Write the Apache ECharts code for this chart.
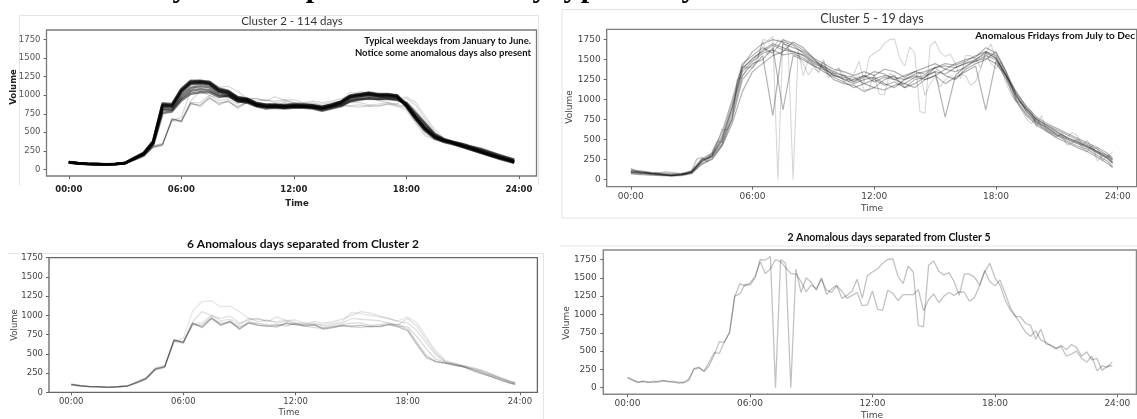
<!DOCTYPE html>
<html>
<head>
<meta charset="utf-8">
<script src="https://cdn.jsdelivr.net/npm/echarts@6/dist/echarts.min.js"></script>
<style>html,body{margin:0;padding:0;background:#fff}#c{width:1137px;height:419px}</style>
</head>
<body>
<div id="c"></div>
<script>
// ---- tick labels ----
const xTicks = [0, 6, 12, 18, 24];
const yTicks = [0, 250, 500, 750, 1000, 1250, 1500, 1750];

// ---- time stamps (hours) ----
const H30 = []; for (let i = 0; i < 48; i++) H30.push(i * 0.5); H30.push(23.75);
const H15 = []; for (let i = 0; i < 96; i++) H15.push(i * 0.25);

// ---- Cluster 2: typical weekdays (30-min samples) ----
const t2_1 = [92,80,73,70,66,71,84,148,212,365,860,855,
  1050,1160,1170,1150,1060,1030,950,935,875,855,850,845,
  855,850,845,825,855,895,975,995,1010,995,995,980,
  850,680,530,425,375,345,305,265,225,185,145,110,90];
const t2_2 = [98,84,75,71,68,73,86,155,220,375,880,870,
  1075,1185,1190,1170,1080,1050,970,950,890,870,870,860,
  870,870,860,840,870,910,990,1010,1030,1010,1010,995,
  870,700,550,440,390,355,315,275,235,195,155,120,98];
const t2_3 = [90,78,72,69,65,70,82,142,205,360,850,845,
  1040,1150,1160,1145,1050,1020,945,925,870,845,845,840,
  850,845,840,820,850,890,965,990,1005,990,990,975,
  845,670,520,420,370,340,300,260,220,180,140,105,88];
const t2_4 = [100,86,76,72,68,74,88,158,225,380,890,880,
  1085,1195,1195,1180,1090,1060,975,955,895,875,875,865,
  875,875,865,845,875,915,995,1015,1035,1015,1015,1000,
  880,710,560,450,395,360,320,280,240,200,160,125,102];
const t2_5 = [95,82,74,70,66,72,84,145,205,350,820,820,
  1000,1100,1120,1110,1030,1010,930,920,860,840,845,835,
  845,845,835,815,845,880,950,975,995,980,980,970,
  860,700,560,450,390,360,320,285,245,205,165,130,110];
const t2_6 = [96,82,74,71,67,72,84,140,200,330,760,780,
  930,1020,1040,1040,980,990,920,910,860,840,840,830,
  840,840,830,800,830,860,920,950,960,950,960,950,
  880,740,600,470,400,370,340,300,260,220,180,145,125];
const t2_7 = [94,81,73,70,66,72,85,150,215,370,865,860,
  1065,1170,1180,1165,1065,1045,960,945,885,860,865,855,
  865,860,855,835,865,905,985,1005,1025,1005,1005,990,
  865,695,545,435,385,350,310,270,230,190,150,115,95];
const t2_8 = [97,83,75,71,67,73,85,145,210,350,800,800,
  960,1060,1080,1070,1000,990,920,900,850,820,830,820,
  830,830,820,790,820,850,920,940,960,950,950,940,
  900,760,620,480,410,370,340,300,270,230,190,150,130];

// ---- Cluster 2: 6 anomalous days (30-min samples) ----
const a2_1 = [100,85,75,72,65,72,80,120,175,300,330,680,
  650,900,840,960,870,920,820,900,870,860,850,900,
  880,860,880,820,840,870,860,870,850,860,880,850,
  800,620,450,400,380,350,330,280,240,200,160,120,105];
const a2_2 = [110,90,78,74,68,74,85,140,190,320,350,660,
  700,1060,1180,1190,1110,1120,1050,960,950,930,920,940,
  900,900,880,880,900,920,1040,1020,1000,980,950,930,
  980,900,720,540,420,380,350,320,290,240,190,150,130];
const a2_3 = [95,80,72,70,65,72,82,130,180,310,340,670,
  660,920,1050,1000,960,990,900,940,960,920,980,930,
  940,900,920,900,920,950,1000,1050,1030,990,960,920,
  900,800,640,480,400,370,340,300,260,220,180,140,120];
const a2_4 = [105,85,75,72,66,73,82,125,170,290,320,690,
  640,880,870,980,880,930,830,920,880,860,880,860,
  900,860,840,830,850,860,850,840,860,850,880,880,
  820,650,480,400,380,360,330,290,250,200,150,115,100];
const a2_5 = [100,82,74,70,65,72,80,135,185,305,335,660,
  640,900,900,1000,930,950,880,960,920,940,900,920,
  900,880,900,860,880,900,960,950,940,930,900,880,
  960,860,680,510,400,370,340,310,280,230,180,140,125];
const a2_6 = [98,84,75,71,66,72,81,128,178,300,330,675,
  650,890,860,960,900,910,850,900,900,880,870,890,
  880,880,870,840,860,880,900,900,870,880,900,860,
  850,720,560,430,390,360,330,300,270,220,170,130,115];

// ---- Cluster 5: typical Fridays (30-min samples) ----
const c5_1 = [90,80,70,60,50,60,90,230,300,500,900,1400,
  1500,1620,1700,1650,1600,1550,1450,1400,1300,1280,1250,1300,
  1220,1280,1250,1200,1280,1300,1350,1320,1400,1450,1480,1550,
  1500,1320,1050,850,720,650,560,500,450,400,330,260,200];
const c5_2 = [110,100,80,70,60,70,100,250,280,450,800,1300,
  1450,1500,1650,870,1550,1500,1420,1380,1320,1250,1200,1250,
  1280,1200,1150,1250,1300,1250,1300,1380,1350,1400,1500,1600,
  1550,1300,1100,900,750,680,600,520,480,420,350,300,250];
const c5_3 = [80,70,60,55,45,55,80,200,260,430,750,1250,
  1400,1550,800,1700,1650,1600,1500,1420,1350,1300,1280,1200,
  1150,1250,1300,1150,1200,1280,1400,1300,1250,1380,1450,1500,
  1600,1350,1000,820,700,620,550,480,420,380,300,230,160];
const c5_4 = [100,90,75,65,55,65,95,240,320,550,950,1420,
  1600,1700,1750,1720,1680,1580,1480,1420,1330,1300,1220,1280,
  1350,1320,1250,1300,1350,1320,1400,1450,1430,1480,1550,1600,
  1520,1280,1020,880,760,680,620,560,500,440,380,300,240];
const c5_5 = [70,60,55,50,45,50,75,190,250,420,700,1100,
  1350,1450,1550,1600,1720,1650,1520,1380,1250,1200,1180,1100,
  1150,1120,1180,1200,1150,1250,1300,1200,1280,1350,1420,870,
  1480,1250,980,800,680,600,520,460,400,350,280,200,150];
const c5_6 = [120,110,90,80,70,75,110,260,330,600,1000,1450,
  1550,1650,1580,1750,1700,1620,1520,1450,1380,1350,1300,1350,
  1300,1380,1350,1280,1350,1400,1450,1380,1450,1500,1530,1650,
  1580,1350,1080,920,780,700,640,580,520,460,400,330,260];
const c5_7 = [90,85,70,60,50,60,85,220,290,480,850,1350,
  1480,1580,1620,1560,1580,1520,1430,1350,1280,1220,1150,1200,
  1250,1180,1220,1150,1250,1280,1350,780,1300,1420,1480,1520,
  1450,1300,1050,860,720,640,570,510,460,410,340,270,210];
const c5_8 = [105,95,80,65,55,65,95,230,300,520,900,1380,
  1520,1600,1680,1620,1600,1560,1470,1400,1300,1260,1230,1300,
  1260,1300,1280,1250,1320,1350,1400,1420,1400,1460,1500,1580,
  1520,1300,1060,880,740,660,590,530,470,420,350,280,220];

// ---- Cluster 5: 2 anomalous days (15-min samples) ----
const a5_1 = [140,110,80,85, 70,90,75,95, 90,70,80,65, 100,250,270,230,
  350,480,470,630, 750,1250,1280,1410, 1400,1500,1750,1740, 1790,0,1750,1700,
  0,1620,1300,1500, 1440,1330,1500,1270, 1350,1400,1220,1260, 1320,1480,1220,1530,
  1580,1620,1700,1750, 1760,1520,1420,1660, 1580,850,830,1670, 1730,1590,1540,1570,
  1450,1260,1550,1550, 1510,1400,1600,1450, 1390,1470,1290,1100, 970,970,880,850,
  660,800,600,580, 540,560,430,460, 500,400,350,430, 230,300,280,350];
const a5_2 = [140,100,70,90, 80,70,90,100, 80,90,60,75, 120,260,280,220,
  300,450,630,620, 760,1240,1420,1390, 1430,1520,1720,1560, 1620,1750,1720,1640,
  1560,1550,1450,1310, 1400,1350,1480,1330, 1300,1390,1320,1220, 1260,1300,1120,1130,
  1320,1070,1060,1330, 1290,1190,1270,1270, 1270,1340,1050,1200, 1280,1160,1250,1300,
  1260,1310,1300,1180, 1230,1390,1580,1700, 1500,1400,1200,1060, 980,870,760,700,
  780,650,620,570, 530,580,520,590, 550,430,490,380, 400,240,290,300];

// ---------------------------------------------------------------
const typical2 = [t2_1, t2_2, t2_3, t2_4, t2_5, t2_6, t2_7, t2_8];
const anom2 = [a2_1, a2_2, a2_3, a2_4, a2_5, a2_6];
const typical5 = [c5_1, c5_2, c5_3, c5_4, c5_5, c5_6, c5_7, c5_8];
const anom5 = [a5_1, a5_2];

const chart = echarts.init(document.getElementById('c'), null, {renderer: 'canvas'});
const XMIN = -1.1875, XMAX = 24.9375;
const fmtT = v => (v < 10 ? '0' : '') + v + ':00';
const fmtY = v => String(v);

function mkLine(vals, times, gi, opacity, width, color) {
  return {
    type: 'line', xAxisIndex: gi, yAxisIndex: gi,
    data: vals.map((v, i) => [times[i], v]),
    symbol: 'none', showSymbol: false, silent: true, animation: false,
    lineStyle: {color: color || '#000', opacity: opacity, width: width}
  };
}

const grids = [
  {left: 46.5, top: 30, width: 490, height: 146, borderColor: '#7a7a7a', borderWidth: 1.3},
  {left: 606.7, top: 29.3, width: 530, height: 157.4, borderColor: '#7a7a7a', borderWidth: 1.3},
  {left: 49, top: 257.7, width: 488.4, height: 134.6, borderColor: '#666', borderWidth: 1.3},
  {left: 603.3, top: 250, width: 533.2, height: 144.3, borderColor: '#888', borderWidth: 1.5}
].map(g => Object.assign({show: true, backgroundColor: '#fff', containLabel: false}, g));

const labelStyles = [
  {x: {fontFamily: 'DejaVu Sans', fontSize: 8.5, fontWeight: 'bold', color: '#222', margin: 9},
   y: {fontFamily: 'DejaVu Sans', fontSize: 8.5, color: '#555', margin: 6}},
  {x: {fontFamily: 'DejaVu Sans', fontSize: 9, color: '#444', margin: 5},
   y: {fontFamily: 'DejaVu Sans', fontSize: 9, color: '#444', margin: 6}},
  {x: {fontFamily: 'DejaVu Sans', fontSize: 8.5, color: '#444', margin: 5},
   y: {fontFamily: 'DejaVu Sans', fontSize: 8.5, color: '#444', margin: 6}},
  {x: {fontFamily: 'DejaVu Sans', fontSize: 9, color: '#444', margin: 5},
   y: {fontFamily: 'DejaVu Sans', fontSize: 9, color: '#444', margin: 6.5}}
];
const yRanges = [[-89.5, 1879.5], [-89.5, 1879.5], [0, 1750], [-89.5, 1879.5]];

const xAxes = [], yAxes = [];
for (let g = 0; g < 4; g++) {
  xAxes.push({
    type: 'value', gridIndex: g, min: XMIN, max: XMAX, position: 'bottom',
    axisLine: {show: false, onZero: false}, splitLine: {show: false},
    axisTick: {show: true, length: 3, inside: false, customValues: xTicks, lineStyle: {color: '#666'}},
    axisLabel: Object.assign({customValues: xTicks, formatter: fmtT, showMinLabel: true, showMaxLabel: true}, labelStyles[g].x)
  });
  yAxes.push({
    type: 'value', gridIndex: g, min: yRanges[g][0], max: yRanges[g][1], position: 'left',
    axisLine: {show: false, onZero: false}, splitLine: {show: false},
    axisTick: {show: true, length: 3, inside: false, customValues: yTicks, lineStyle: {color: '#666'}},
    axisLabel: Object.assign({customValues: yTicks, formatter: fmtY, showMinLabel: true, showMaxLabel: true}, labelStyles[g].y)
  });
}

const series = [];
anom2.forEach(a => series.push(mkLine(a, H30, 0, 0.15, 1.2)));
typical2.forEach(a => series.push(mkLine(a, H30, 0, 0.5, 2.6)));
anom5.forEach(a => series.push(mkLine(a, H15, 1, 0.16, 1.1)));
typical5.forEach(a => series.push(mkLine(a, H30, 1, 0.3, 1.2)));
const op2 = [0.26, 0.1, 0.12, 0.16, 0.12, 0.15];
anom2.forEach((a, i) => series.push(mkLine(a, H30, 2, op2[i], 1.3)));
anom5.forEach(a => series.push(mkLine(a, H15, 3, 0.24, 1.3)));

function txt(text, x, y, font, fill, align, rot) {
  return {type: 'text', x: x, y: y, rotation: rot || 0, silent: true, z: 100,
    style: {text: text, font: font, fill: fill, align: align || 'center', verticalAlign: 'middle'}};
}
function ln(x1, y1, x2, y2) {
  return {type: 'line', silent: true, z: 0, shape: {x1, y1, x2, y2}, style: {stroke: '#e4e4e4', lineWidth: 1}};
}
const R = Math.PI / 2;
const SERIF = 'bold 30px "Liberation Serif"';
const SY = -10.5;
const graphics = [
  // card edges
  ln(19.5, 185, 19.5, 15.5), ln(19.5, 15.5, 538.5, 15.5), ln(538.5, 15.5, 538.5, 185),
  ln(562, 9.5, 1137, 9.5), ln(562, 9.5, 562, 218), ln(562, 218, 1137, 218),
  ln(8, 253.5, 543.5, 253.5), ln(543.5, 253.5, 543.5, 419),
  ln(560, 246, 1137, 246),
  // cut-off document heading (only descenders visible)
  txt('y', 180, SY, SERIF, '#000'),
  txt('p', 314, SY, SERIF, '#000'),
  txt('y', 540, SY, SERIF, '#000'),
  txt('y', 571, SY, SERIF, '#000'),
  txt('p', 589, SY, SERIF, '#000'),
  txt('y', 689, SY, SERIF, '#000'),
  // top-left
  txt('Cluster 2 - 114 days', 292, 21.7, '11.5px Lato', '#333'),
  txt('Typical weekdays from January to June.', 531, 40.7, 'bold 9.5px Lato', '#111', 'right'),
  txt('Notice some anomalous days also present', 531, 53.3, 'bold 9.5px Lato', '#111', 'right'),
  txt('Volume', 14, 87, 'bold 8.5px "DejaVu Sans"', '#222', 'center', R),
  txt('Time', 297, 204, 'bold 8.5px "DejaVu Sans"', '#222'),
  // top-right
  txt('Cluster 5 - 19 days', 872, 19.3, '12.5px Lato', '#333'),
  txt('Anomalous Fridays from July to Dec', 1135, 36, 'bold 10px Lato', '#111', 'right'),
  txt('Volume', 570, 107, '9px "DejaVu Sans"', '#444', 'center', R),
  txt('Time', 872, 208.3, '9px "DejaVu Sans"', '#444'),
  // bottom-left
  txt('6 Anomalous days separated from Cluster 2', 303, 244.3, 'bold 12px Lato', '#111'),
  txt('Volume', 15, 325, '8.5px "DejaVu Sans"', '#444', 'center', R),
  txt('Time', 289, 412.7, '8.5px "DejaVu Sans"', '#444'),
  // bottom-right
  txt('2 Anomalous days separated from Cluster 5', 889, 237.3, 'bold 10.5px Lato', '#111'),
  txt('Volume', 567, 323, '9px "DejaVu Sans"', '#444', 'center', R),
  txt('Time', 872, 415.7, '9px "DejaVu Sans"', '#444')
];

chart.setOption({
  backgroundColor: '#fff',
  animation: false,
  grid: grids,
  xAxis: xAxes,
  yAxis: yAxes,
  series: series,
  graphic: graphics
});
</script>
</body>
</html>
